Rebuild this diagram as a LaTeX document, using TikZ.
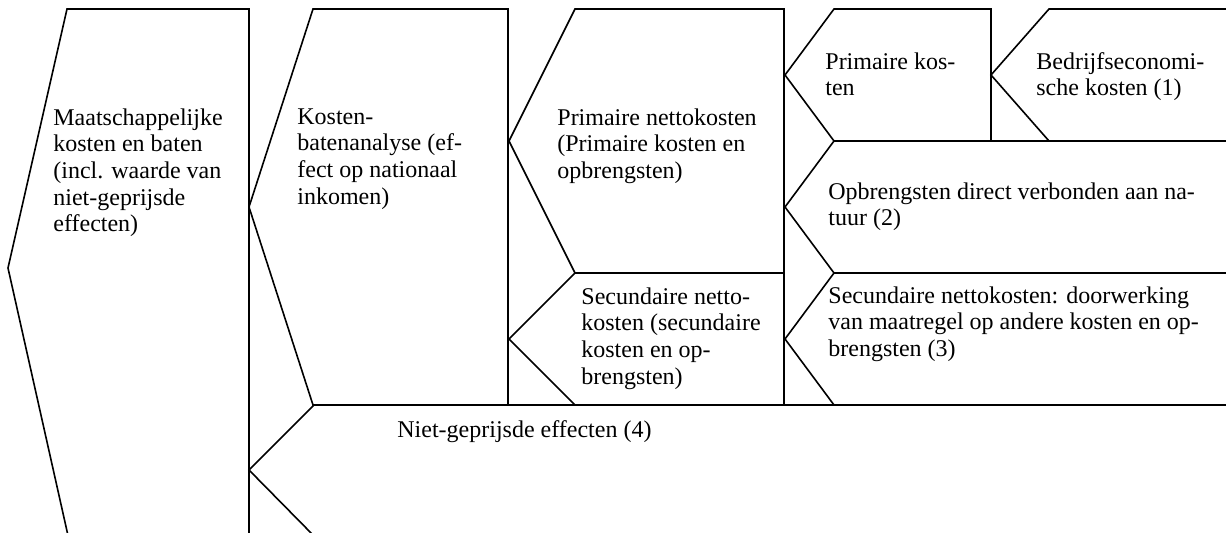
\documentclass[tikz,border=0pt]{standalone}
\usepackage{fontspec}
\setmainfont{Liberation Serif}
\begin{document}
\begin{tikzpicture}[x=0.5pt,y=-0.5pt]
\tikzset{
  chev/.style={draw=black, line width=0.8pt, line join=miter},
  lbl/.style={anchor=north west, align=left, inner sep=0pt,
    font=\fontsize{12}{13.35}\selectfont,
    execute at begin node={\rule{0pt}{9pt}}},
}
\useasboundingbox (0,0) rectangle (1226,533);
\clip (0,0) rectangle (1226,533);

% left-pointing blocks
\draw[chev] (67,9) -- (249,9) -- (249,540) -- (69,540) -- (8,268) -- cycle;
\draw[chev] (313,9) -- (508,9) -- (508,405) -- (313,405) -- (249,207) -- cycle;
\draw[chev] (575,9) -- (784,9) -- (784,273) -- (575,273) -- (509,141) -- cycle;
\draw[chev] (575,273) -- (784,273) -- (784,405) -- (575,405) -- (509,339) -- cycle;
\draw[chev] (834,9) -- (991,9) -- (991,141) -- (834,141) -- (785,75) -- cycle;
\draw[chev] (1049,9) -- (1240,9) -- (1240,141) -- (1049,141) -- (991,75) -- cycle;
\draw[chev] (834,141) -- (1240,141) -- (1240,273) -- (834,273) -- (785,207) -- cycle;
\draw[chev] (834,273) -- (1240,273) -- (1240,405) -- (834,405) -- (785,339) -- cycle;
\draw[chev] (314,405) -- (1240,405) -- (1240,536) -- (314,536) -- (249,470) -- cycle;

% labels (position = left end of first baseline, raised by the 9pt strut)
\node[lbl] (mkb) at (53,108) {Maatschappelijke\\kosten en baten\\(incl. waarde van\\niet-geprijsde\\effecten)};
\node[lbl] (kba) at (297,108) {Kosten-\\batenanalyse (ef-\\fect op nationaal\\inkomen)};
\node[lbl] (pnk) at (557,108) {Primaire nettokosten\\(Primaire kosten en\\opbrengsten)};
\node[lbl] (snk) at (581,287) {Secundaire netto-\\kosten (secundaire\\kosten en op-\\brengsten)};
\node[lbl] (pk) at (825,52) {Primaire kos-\\ten};
\node[lbl] (bek) at (1036,52) {Bedrijfseconomi-\\sche kosten (1)};
\node[lbl] (opb) at (828,182) {Opbrengsten direct verbonden aan na-\\tuur (2)};
\node[lbl] (sdw) at (828,286) {Secundaire nettokosten: doorwerking\\van maatregel op andere kosten en op-\\brengsten (3)};
\node[lbl] (nge) at (397,419) {Niet-geprijsde effecten (4)};
\end{tikzpicture}
\end{document}
